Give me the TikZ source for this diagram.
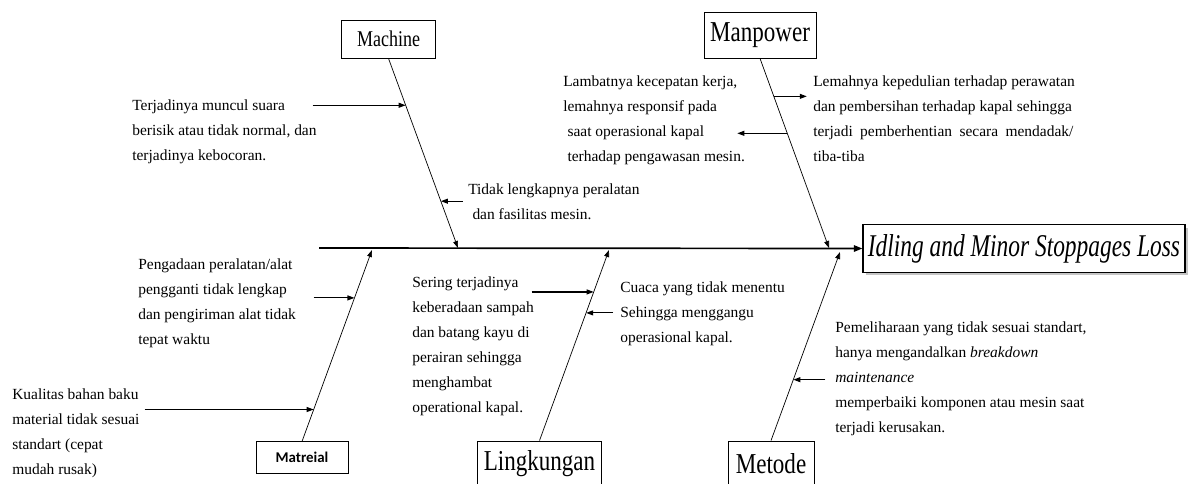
\documentclass[tikz,border=0pt]{standalone}
\usepackage{fontspec}
\setmainfont{Liberation Serif}
\newfontfamily\catfont{Liberation Serif}[FakeStretch=0.8]
\newfontfamily\efffont{Liberation Serif}[FakeStretch=0.74]
\newfontfamily\calfont{Carlito}
\usetikzlibrary{arrows.meta,calc,shadows}

\begin{document}
\begin{tikzpicture}[x=0.025cm, y=-0.025cm,
  catbox/.style={draw, line width=0.6pt, inner sep=0pt, font=\catfont\fontsize{20.5pt}{22pt}\selectfont},
  note/.style={anchor=north west, inner sep=0pt, align=left, font=\fontsize{11pt}{17.8pt}\selectfont},
  bone/.style={line width=0.5pt, -{Triangle[length=5pt,width=3.5pt]}},
  twig/.style={line width=0.8pt, -{Triangle[length=5pt,width=3.5pt]}}]
\useasboundingbox (0,0) rectangle (1188,483);

% categories
\node[catbox, minimum width=2.33cm, minimum height=0.95cm, font=\catfont\fontsize{16pt}{18pt}\selectfont] (machine) at (388.5,39) {Machine};
\node[catbox, minimum width=2.8cm, minimum height=1.15cm] (manpower) at (760,35) {Manpower};
\node[catbox, minimum width=2.3cm, minimum height=0.78cm, font=\calfont\bfseries\fontsize{10.6pt}{12pt}\selectfont] (material) at (302,457.5) {Matreial};
\node[catbox, minimum width=3.08cm, minimum height=1.15cm] (lingkungan) at (539.5,464) {Lingkungan};
\node[catbox, minimum width=2.15cm, minimum height=1.15cm] (metode) at (771,464) {Metode};
\node[draw, line width=0.8pt, fill=white, drop shadow={shadow xshift=2pt, shadow yshift=-2pt, fill=black!45}, minimum width=8.05cm, minimum height=1.18cm, font=\efffont\itshape\fontsize{22.5pt}{24pt}\selectfont] (effect) at (1024,248.5) {Idling and Minor Stoppages Loss};

% spine
\coordinate (spinestart) at (319,248);
\draw[line width=1.2pt, -{Triangle[length=6pt,width=4.5pt]}] (spinestart) -- (effect.west);

% bones
\coordinate (mcjoint) at (458,248);
\coordinate (mpjoint) at (829,248);
\coordinate (mtjoint) at (372,250);
\coordinate (lkjoint) at (609,250);
\coordinate (mejoint) at (840,252);
\draw[bone] (machine.south) -- (mcjoint);
\draw[bone] (manpower.south) -- (mpjoint);
\draw[bone] (material.north) -- (mtjoint);
\draw[bone] (lingkungan.north) -- (lkjoint);
\draw[bone] (metode.north) -- (mejoint);

% causes
\node[note] (tbunyi) at (132,99) {Terjadinya muncul suara\\berisik atau tidak normal, dan\\terjadinya kebocoran.};
\node[note] (talat) at (468,183) {Tidak lengkapnya peralatan\\\hspace*{3pt}dan fasilitas mesin.};
\node[note] (tlambat) at (563,75) {Lambatnya kecepatan kerja,\\lemahnya responsif pada\\\hspace*{3pt}saat operasional kapal\\\hspace*{3pt}terhadap pengawasan mesin.};
\node[note] (tlemah) at (813,75) {Lemahnya kepedulian terhadap perawatan\\dan pembersihan terhadap kapal sehingga\\\makebox[6.5cm][s]{terjadi pemberhentian secara mendadak/}\\tiba-tiba};
\node[note] (tganti) at (138,258) {Pengadaan peralatan/alat\\pengganti tidak lengkap\\dan pengiriman alat tidak\\tepat waktu};
\node[note] (tkualitas) at (12,388) {Kualitas bahan baku\\material tidak sesuai\\standart (cepat\\mudah rusak)};
\node[note] (tsampah) at (412,276) {Sering terjadinya\\keberadaan sampah\\dan batang kayu di\\perairan sehingga\\menghambat\\operational kapal.};
\node[note] (tcuaca) at (620,281) {Cuaca yang tidak menentu\\Sehingga menggangu\\operasional kapal.};
\node[note] (tpelihara) at (835,321) {Pemeliharaan yang tidak sesuai standart,\\hanya mengandalkan \textit{breakdown}\\\textit{maintenance}\\memperbaiki komponen atau mesin saat\\terjadi kerusakan.};

% twig points on the bones
\coordinate (mc1) at ($(machine.south)!0.247!(mcjoint)$);
\coordinate (mc1s) at ($(mc1)+(-93,0)$);
\coordinate (mc2) at ($(machine.south)!0.753!(mcjoint)$);
\coordinate (mc2s) at ($(mc2)+(22,0)$);
\coordinate (mp1) at ($(manpower.south)!0.2!(mpjoint)$);
\coordinate (mp1e) at ($(mp1)+(33,0)$);
\coordinate (mp2) at ($(manpower.south)!0.395!(mpjoint)$);
\coordinate (mp2e) at ($(mp2)+(-50,0)$);
\coordinate (mt1) at ($(material.north)!0.75!(mtjoint)$);
\coordinate (mt1s) at ($(mt1)+(-41,0)$);
\coordinate (mt2) at ($(material.north)!0.167!(mtjoint)$);
\coordinate (mt2s) at ($(mt2)+(-169,0)$);
\coordinate (lk1) at ($(lingkungan.north)!0.78!(lkjoint)$);
\coordinate (lk1s) at ($(lk1)+(-62,0)$);
\coordinate (lk2) at ($(lingkungan.north)!0.67!(lkjoint)$);
\coordinate (lk2s) at ($(lk2)+(27,0)$);
\coordinate (me1) at ($(metode.north)!0.323!(mejoint)$);
\coordinate (me1s) at ($(me1)+(32,0)$);

\draw[twig] (mc1s) -- (mc1);
\draw[twig] (mc2s) -- (mc2);
\draw[twig] (mp1) -- (mp1e);
\draw[twig] (mp2) -- (mp2e);
\draw[twig] (mt1s) -- (mt1);
\draw[twig] (mt2s) -- (mt2);
\draw[twig] (lk1s) -- (lk1);
\draw[twig] (lk2s) -- (lk2);
\draw[twig] (me1s) -- (me1);
\end{tikzpicture}
\end{document}
